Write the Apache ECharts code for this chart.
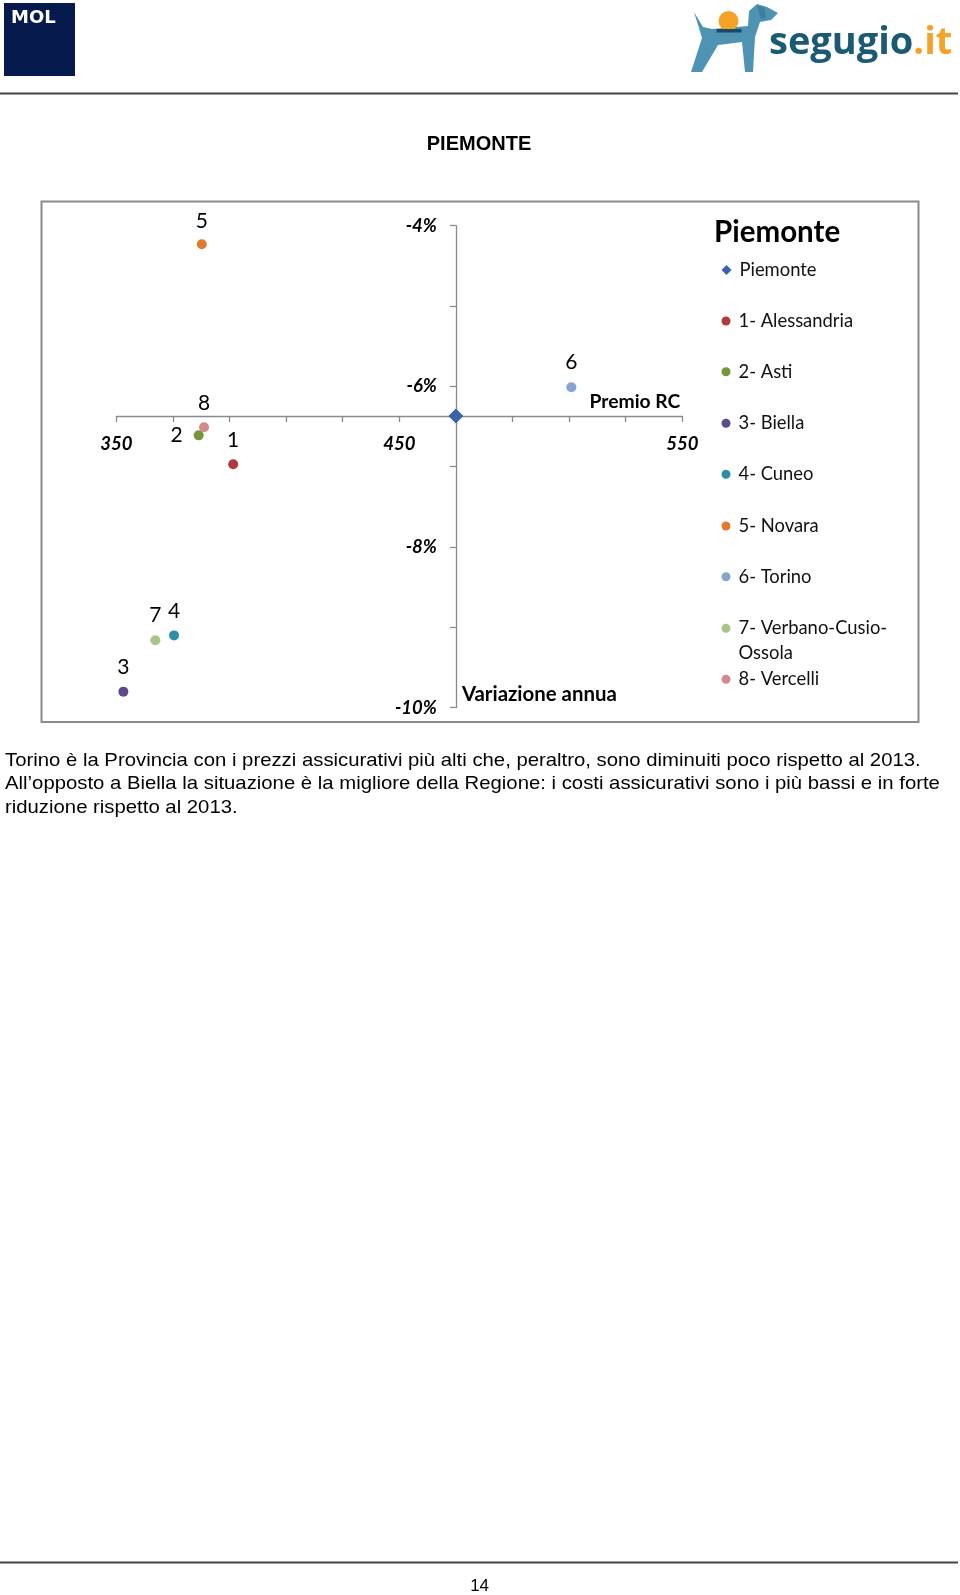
<!DOCTYPE html>
<html><head><meta charset="utf-8">
<script src="https://cdn.jsdelivr.net/npm/echarts@6/dist/echarts.min.js"></script>
<style>html,body{margin:0;padding:0;background:#fff}#c{width:960px;height:1595px}</style>
</head><body><div id="c"></div>
<script>
// ---- data ----
const seriesNames = ['Piemonte','1- Alessandria','2- Asti','3- Biella','4- Cuneo','5- Novara','6- Torino','7- Verbano-Cusio-Ossola','8- Vercelli'];
const pointLabels = ['', '1', '2', '3', '4', '5', '6', '7', '8'];
const premioRC = [470, 391.3, 379.1, 352.5, 370.4, 380.2, 510.8, 363.8, 381.0];
const variazioneAnnua = [-6.37, -6.97, -6.61, -9.80, -9.10, -4.23, -6.01, -9.16, -6.51];
const xTickValues = ['350','370','390','410','430','450','470','490','510','530','550'];
const xTickLabels = ['350','450','550'];
const yTickLabels = ['-10%','-8%','-6%','-4%'];
const chartTitle = 'PIEMONTE';
const legendTitle = 'Piemonte';
const paragraph = [
  'Torino è la Provincia con i prezzi assicurativi più alti che, peraltro, sono diminuiti poco rispetto al 2013.',
  'All’opposto a Biella la situazione è la migliore della Regione: i costi assicurativi sono i più bassi e in forte',
  'riduzione rispetto al 2013.'
];
const pageNumber = '14';

// ---- styles ----
const colors = ['#3b64a8','#b33a3a','#77963c','#5d4a88','#2e8ea8','#e07a2e','#86a4d0','#a9c58a','#d48a8a'];
const legendCenters = [270, 321, 371.7, 423.3, 474.3, 526, 576.7, 628.3, 679.3];
const G = {left: 116.3, top: 225.7, width: 566, height: 482};
const xMin = 350, xMax = 550, yMin = -10, yMax = -4;
const axisColor = '#8a8a8a';
const calib = 'Lato';

const xOffset = -((variazioneAnnua[0] - yMin) / (yMax - yMin)) * G.height;
const yOffset = -((premioRC[0] - xMin) / (xMax - xMin)) * G.width;

const series = seriesNames.map((n, i) => ({
  type: 'scatter',
  name: n,
  xAxisIndex: 0,
  yAxisIndex: 0,
  symbol: i === 0 ? 'diamond' : 'circle',
  symbolSize: i === 0 ? 15 : 10,
  itemStyle: {color: colors[i], opacity: 1},
  z: i === 0 ? 5 : 4,
  label: {
    show: i !== 0,
    position: i === 2 ? 'left' : 'top',
    distance: i === 2 ? 11 : (i === 5 ? 7 : 9),
    formatter: pointLabels[i],
    fontFamily: calib, fontSize: 21, color: '#000'
  },
  emphasis: {disabled: true},
  data: [[premioRC[i], variazioneAnnua[i]]]
}));

const legends = seriesNames.map((n, i) => {
  const multi = i === 7;
  return {
    data: [n],
    orient: 'vertical',
    left: 721.5,
    top: multi ? legendCenters[i] - 37.5 : legendCenters[i] - 10,
    padding: 0,
    itemWidth: i === 0 ? 10 : 9,
    itemHeight: i === 0 ? 10 : 9,
    selectedMode: false,
    formatter: multi ? ' \n7- Verbano-Cusio-\nOssola' : '{name}',
    textStyle: {
      fontFamily: calib, fontSize: 18.4, color: '#111',
      lineHeight: multi ? 25 : 20,
      padding: [0, 0, 0, 3],
      backgroundColor: 'rgba(255,255,255,0)'
    }
  };
});

const paraStyle = {font: '18.5px "Liberation Sans"', fill: '#000', textVerticalAlign: 'middle'};

const chart = echarts.init(document.getElementById('c'), null, {renderer: 'canvas'});
chart.setOption({
  animation: false,
  backgroundColor: '#fff',
  grid: {left: G.left, top: G.top, width: G.width, height: G.height, containLabel: false},
  xAxis: [
    {type: 'value', min: xMin, max: xMax, show: false, position: 'top'},
    {
      type: 'category', data: xTickValues, boundaryGap: false, position: 'bottom',
      offset: xOffset,
      axisLine: {show: true, onZero: false, lineStyle: {color: axisColor, width: 1.3}},
      axisTick: {show: true, length: 6, inside: false, interval: 0, lineStyle: {color: axisColor, width: 1.3}},
      axisLabel: {
        interval: 0, margin: 18,
        formatter: v => xTickLabels.includes(v) ? v : '',
        fontFamily: calib, fontSize: 18.5, fontWeight: 'bold', fontStyle: 'italic', color: '#000'
      },
      splitLine: {show: false},
      name: 'Premio RC', nameLocation: 'end', nameGap: -2,
      nameTextStyle: {fontFamily: calib, fontSize: 19.3, fontWeight: 'bold', color: '#000', align: 'right', verticalAlign: 'bottom', padding: [0, 0, 5, 0]}
    }
  ],
  yAxis: [{
    type: 'value', min: yMin, max: yMax, interval: 1, position: 'left',
    offset: yOffset,
    axisLine: {show: true, onZero: false, lineStyle: {color: axisColor, width: 1.3}},
    axisTick: {show: true, length: 6, inside: false, lineStyle: {color: axisColor, width: 1.3}},
    axisLabel: {
      margin: 19,
      formatter: v => { const s = v + '%'; return yTickLabels.includes(s) ? s : ''; },
      fontFamily: calib, fontSize: 18.5, fontWeight: 'bold', fontStyle: 'italic', color: '#000'
    },
    splitLine: {show: false},
    name: 'Variazione annua', nameLocation: 'start', nameGap: -13,
    nameTextStyle: {fontFamily: calib, fontSize: 20.4, fontWeight: 'bold', color: '#000', align: 'left', verticalAlign: 'middle', padding: [0, 0, 0, 6]}
  }],
  legend: legends,
  series: series,
  graphic: [
    // MOL logo
    {type: 'rect', shape: {x: 4, y: 3, width: 71, height: 73}, style: {fill: '#061a4d'}},
    {type: 'text', x: 11, y: 18.5, style: {text: 'MOL', fill: '#fff', font: '900 18px "DejaVu Sans"', textVerticalAlign: 'middle'}},
    // segugio logo
    {type: 'polygon', shape: {points: [[694,12],[703,27],[712,29],[748,26],[749,11],[757,4],[767,7],[778,13],[771,20],[760,22],[755,37],[753,72],[745,72],[742,42],[718,45],[702,72],[691,72],[702,38],[699,28]]}, style: {fill: '#4f93b3'}},
    {type: 'polygon', shape: {points: [[757,6],[764,7],[766,18],[761,19]]}, style: {fill: '#3f7f9e'}},
    {type: 'circle', shape: {cx: 728.5, cy: 21, r: 10}, style: {fill: '#f5a327'}},
    {type: 'rect', shape: {x: 716.5, y: 29, width: 25, height: 3.5}, style: {fill: '#1c4a66'}},
    {type: 'text', x: 769, y: 62, style: {
      text: '{a|segugio}{b|.it}', textVerticalAlign: 'bottom',
      rich: {
        a: {fontFamily: 'Open Sans', fontWeight: 'bold', fontSize: 38, fill: '#1b5a73', color: '#1b5a73'},
        b: {fontFamily: 'Open Sans', fontWeight: 'bold', fontSize: 38, fill: '#f5a327', color: '#f5a327'}
      }
    }},
    // header rule
    {type: 'line', shape: {x1: 0, y1: 93.5, x2: 958, y2: 93.5}, style: {stroke: '#444', lineWidth: 2}},
    // chart title
    {type: 'text', x: 479, y: 144, style: {text: chartTitle, font: 'bold 20px "Liberation Sans"', fill: '#000', textAlign: 'center', textVerticalAlign: 'middle'}},
    // chart frame
    {type: 'rect', shape: {x: 41.5, y: 201.5, width: 877, height: 520.5}, style: {fill: 'none', stroke: '#8a8a8a', lineWidth: 2}, z: -1},
    // legend title
    {type: 'text', x: 714, y: 232, style: {text: legendTitle, font: 'bold 29.5px Lato', fill: '#000', textVerticalAlign: 'middle'}},
    // paragraph
    ...paragraph.map((t, i) => ({type: 'text', x: 5, y: 761 + i * 23.4, scaleX: 1.098, style: Object.assign({text: t}, paraStyle)})),
    // footer
    {type: 'line', shape: {x1: 0, y1: 1562.5, x2: 958, y2: 1562.5}, style: {stroke: '#444', lineWidth: 2}},
    {type: 'text', x: 479.6, y: 1586, style: {text: pageNumber, font: '17px "Liberation Sans"', fill: '#000', textAlign: 'center', textVerticalAlign: 'middle'}}
  ]
});
</script>
</body></html>
